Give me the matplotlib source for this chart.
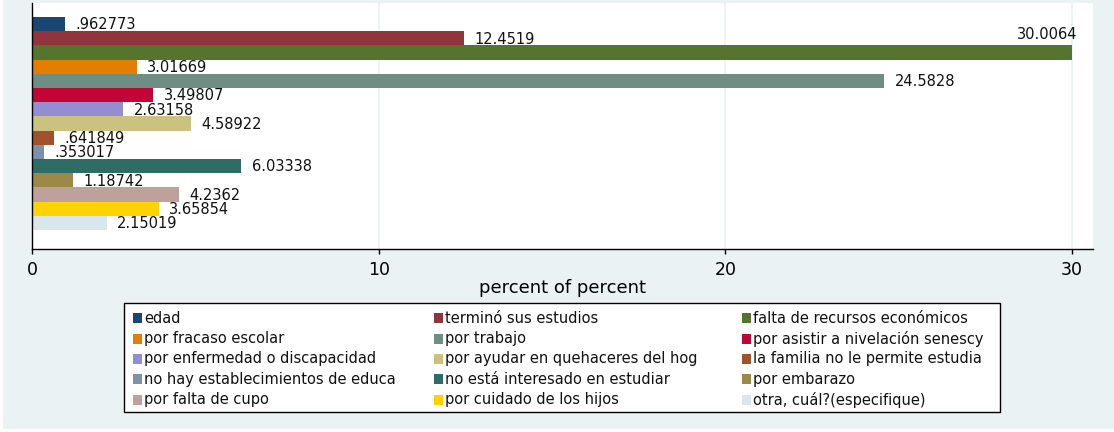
import matplotlib
matplotlib.use('Agg')
from matplotlib import pyplot as plt
from matplotlib.patches import Rectangle

# reasons for leaving school, percent
categories = ["edad", "terminó sus estudios", "falta de recursos económicos",
              "por fracaso escolar", "por trabajo", "por asistir a nivelación senescy",
              "por enfermedad o discapacidad", "por ayudar en quehaceres del hog",
              "la familia no le permite estudia", "no hay establecimientos de educa",
              "no está interesado en estudiar", "por embarazo", "por falta de cupo",
              "por cuidado de los hijos", "otra, cuál?(especifique)"]
values = [0.962773, 12.4519, 30.0064, 3.01669, 24.5828, 3.49807, 2.63158, 4.58922,
          0.641849, 0.353017, 6.03338, 1.18742, 4.2362, 3.65854, 2.15019]
xticks = [0, 10, 20, 30]

# stata s2color palette
colors = ['#1a476f', '#90353b', '#55752f', '#e37e00', '#6e8e84', '#c10534',
          '#938dd2', '#cac27e', '#a0522d', '#7b92a8', '#2d6d66', '#9c8847',
          '#bfa19c', '#ffd200', '#d9e6eb']
bg = '#eaf2f3'

W, H = 1114, 432


def stata_g(v):
    s = f'{v:.6g}'
    if s.startswith('0.'):
        s = s[1:]
    return s


fig = plt.figure(figsize=(W / 100, H / 100), dpi=100)
fig.patch.set_facecolor('white')
fig.patches.append(Rectangle((3 / W, 3 / H), (W - 3) / W, (H - 3) / H,
                             transform=fig.transFigure, facecolor=bg,
                             edgecolor='none', zorder=-10))

ax = fig.add_axes([32 / W, (H - 249) / H, (1093 - 32) / W, 246 / H])
ax.set_facecolor('white')
n = len(values)
ax.barh(range(n), values, height=1.0, color=colors, zorder=2)
ax.set_xlim(0, 1061 / 34.667)
ax.set_ylim(15.84, -1.486)

vmax = max(values)
for i, v in enumerate(values):
    if v == vmax:
        ax.annotate(stata_g(v), (v, i), xytext=(3.6, 13.2), textcoords='offset points',
                    ha='right', va='center', fontsize=10.5, color='#111111')
    else:
        ax.annotate(stata_g(v), (v, i), xytext=(7.5, -0.6), textcoords='offset points',
                    ha='left', va='center', fontsize=10.5, color='#111111')

ax.set_xticks(xticks)
ax.xaxis.grid(True, color=bg, lw=1.2)
ax.set_axisbelow(True)
ax.tick_params(axis='x', length=3.6, width=1, direction='out', pad=4.8,
               labelsize=12.5, colors='black')
ax.tick_params(axis='y', left=False, labelleft=False)
for s in ['top', 'right']:
    ax.spines[s].set_visible(False)
for s in ['left', 'bottom']:
    ax.spines[s].set_color('black')
    ax.spines[s].set_linewidth(1)
ax.set_xlabel('percent of percent', fontsize=13, labelpad=0.5)

# legend drawn by hand, rows filled first like stata
lax = fig.add_axes([0, 0, 1, 1])
lax.set_xlim(0, W)
lax.set_ylim(H, 0)
lax.axis('off')
lax.add_patch(Rectangle((124, 303), 876, 109, facecolor='white', edgecolor='black', lw=1))
colx = [133, 434, 742]
for k, (lab, col) in enumerate(zip(categories, colors)):
    r, c = divmod(k, 3)
    yc = 318.3 + r * 20.3
    lax.add_patch(Rectangle((colx[c], yc - 5), 9, 10, facecolor=col, edgecolor='none'))
    lax.text(colx[c] + 11, yc, lab, va='center', ha='left', fontsize=10.5, color='#111111')

fig.savefig('out.png', dpi=100, facecolor=fig.get_facecolor())
